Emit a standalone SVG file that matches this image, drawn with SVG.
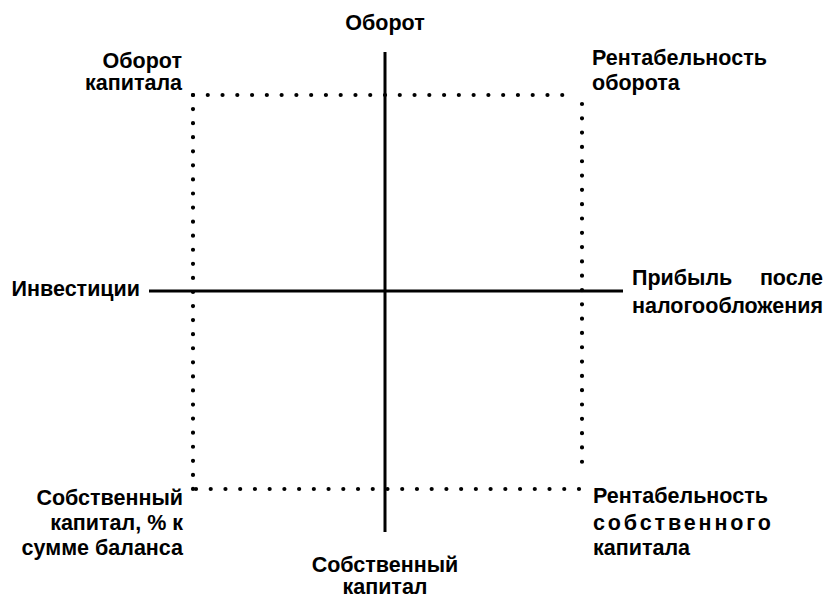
<svg xmlns="http://www.w3.org/2000/svg" width="831" height="601" viewBox="0 0 831 601">
<style>
text{font-family:"Liberation Sans",Arial,sans-serif;font-size:21.5px;font-weight:bold;fill:#000}
.axis{stroke:#000;stroke-width:3;fill:none}
.dot{stroke:#000;stroke-width:4.2;stroke-linecap:round;fill:none}
</style>
<rect width="831" height="601" fill="#fff"/>
<g id="frame">
<line class="dot" x1="193" y1="95" x2="577" y2="95" stroke-dasharray="0 14.77"/>
<line class="dot" x1="193" y1="95" x2="193" y2="489" stroke-dasharray="0 14.07"/>
<line class="dot" x1="582" y1="104" x2="582" y2="476" stroke-dasharray="0 14.31"/>
<line class="dot" x1="196" y1="489" x2="579" y2="489" stroke-dasharray="0 14.73"/>
</g>
<g id="connectors">
<line class="axis" x1="385" y1="52" x2="385" y2="532"/>
<line class="axis" x1="149" y1="291" x2="623" y2="291"/>
</g>
<g id="n-top"><text x="385" y="30" text-anchor="middle">Оборот</text></g>
<g id="n-top-left"><text x="182" y="68" text-anchor="end">Оборот</text><text x="182" y="90" text-anchor="end">капитала</text></g>
<g id="n-top-right"><text x="592" y="65">Рентабельность</text><text x="592" y="90">оборота</text></g>
<g id="n-left"><text x="140" y="296" text-anchor="end">Инвестиции</text></g>
<g id="n-right"><text x="632" y="285">Прибыль</text><text x="823" y="285" text-anchor="end">после</text><text x="632" y="313">налогообложения</text></g>
<g id="n-bottom-left"><text x="183" y="505" text-anchor="end">Собственный</text><text x="183" y="530" text-anchor="end">капитал, % к</text><text x="183" y="555" text-anchor="end">сумме баланса</text></g>
<g id="n-bottom"><text x="385" y="572" text-anchor="middle">Собственный</text><text x="385" y="594" text-anchor="middle">капитал</text></g>
<g id="n-bottom-right"><text x="593" y="503">Рентабельность</text><text x="593" y="530" textLength="178" lengthAdjust="spacing">собственного</text><text x="593" y="555">капитала</text></g>
</svg>
